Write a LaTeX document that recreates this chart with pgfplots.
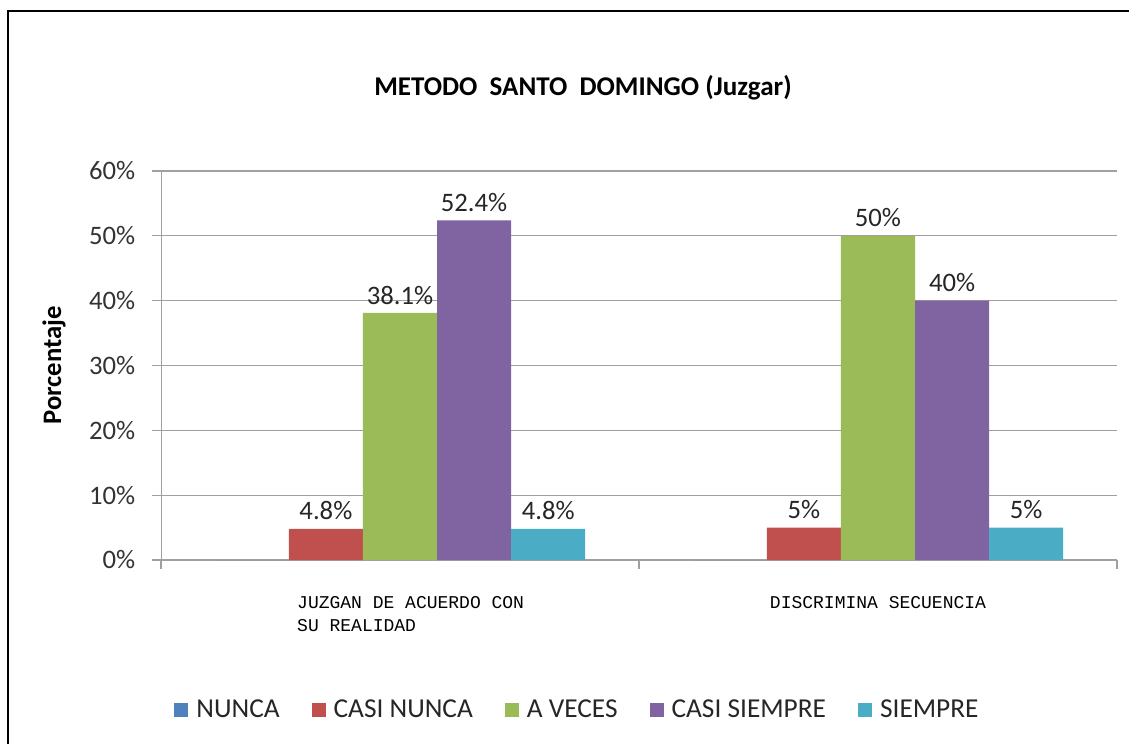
\documentclass[border=0pt]{standalone}
\usepackage{pgfplots}
\pgfplotsset{compat=1.18}
\usepackage{fontspec}
\setmainfont{Carlito}
\newfontfamily\catfont{Liberation Mono}
\definecolor{cNunca}{HTML}{4F81BD}
\definecolor{cCasiN}{HTML}{C0504D}
\definecolor{cAveces}{HTML}{9BBB59}
\definecolor{cCasiS}{HTML}{8064A2}
\definecolor{cSiempre}{HTML}{4BACC6}
\definecolor{gridc}{HTML}{A0A0A0}
\begin{document}
\begin{tikzpicture}
\useasboundingbox (0,0) rectangle (846.75pt,558pt);
\draw[line width=1.5pt] (6pt,0) -- (6pt,549.75pt) -- (846.75pt,549.75pt);
\node[font=\fontsize{20.3}{24}\selectfont\bfseries] at (437.25pt,492pt) {METODO\ \ SANTO\ \ DOMINGO (Juzgar)};
\begin{axis}[
  at={(120.75pt,138pt)}, anchor=south west,
  scale only axis, width=717pt, height=291.75pt,
  xmin=-0.5, xmax=1.5, ymin=0, ymax=60,
  ybar=0pt, bar width=0.155,
  axis x line*=bottom, axis y line*=left,
  axis line style={gridc, -},
  ytick={0,10,...,60},
  yticklabel={\pgfmathprintnumber{\tick}\%},
  /pgf/number format/assume math mode=true,
  ymajorgrids, grid style={gridc, line width=0.8pt},
  major tick style={gridc, line width=0.8pt},
  tick align=outside, major tick length=6.75pt,
  yticklabel style={font=\fontsize{20}{24}\selectfont, text=black!80, xshift=-9pt},
  xtick={-0.5,0.5,1.5}, xticklabels={},
  extra x ticks={0,1},
  extra x tick labels={\hspace*{16pt}JUZGAN DE ACUERDO CON\\\hspace*{16pt}SU REALIDAD, DISCRIMINA SECUENCIA},
  extra x tick style={major tick length=0pt, grid=none,
    xticklabel style={font=\catfont\fontsize{13.5}{17.25}\selectfont, align=left, yshift=-24pt}},
  ylabel={Porcentaje},
  ylabel style={font=\fontsize{20}{24}\selectfont\bfseries, at={(axis description cs:-0.112,0.5)}, anchor=center},
  nodes near coords style={font=\fontsize{20}{24}\selectfont, text=black!85, yshift=3pt},
  legend style={at={(0.436,-0.385)}, anchor=center, legend columns=-1, draw=none,
    font=\fontsize{20.5}{24}\selectfont, text=black!85,
    /tikz/every even column/.append style={column sep=22pt},
    /tikz/every odd column/.append style={column sep=4pt}},
  legend image code/.code={\fill[#1] (0pt,-5.25pt) rectangle (10.5pt,5.25pt);},
]
\addplot[fill=cNunca, draw=none] coordinates {(0,0) (1,0)};
\addlegendentry{NUNCA}
\addplot[fill=cCasiN, draw=none, nodes near coords, point meta=explicit symbolic]
  coordinates {(0,4.8) [4.8\%] (1,5) [5\%]};
\addlegendentry{CASI NUNCA}
\addplot[fill=cAveces, draw=none, nodes near coords, point meta=explicit symbolic]
  coordinates {(0,38.1) [38.1\%] (1,50) [50\%]};
\addlegendentry{A VECES}
\addplot[fill=cCasiS, draw=none, nodes near coords, point meta=explicit symbolic]
  coordinates {(0,52.4) [52.4\%] (1,40) [40\%]};
\addlegendentry{CASI SIEMPRE}
\addplot[fill=cSiempre, draw=none, nodes near coords, point meta=explicit symbolic]
  coordinates {(0,4.8) [4.8\%] (1,5) [5\%]};
\addlegendentry{SIEMPRE}
\end{axis}
\end{tikzpicture}
\end{document}
